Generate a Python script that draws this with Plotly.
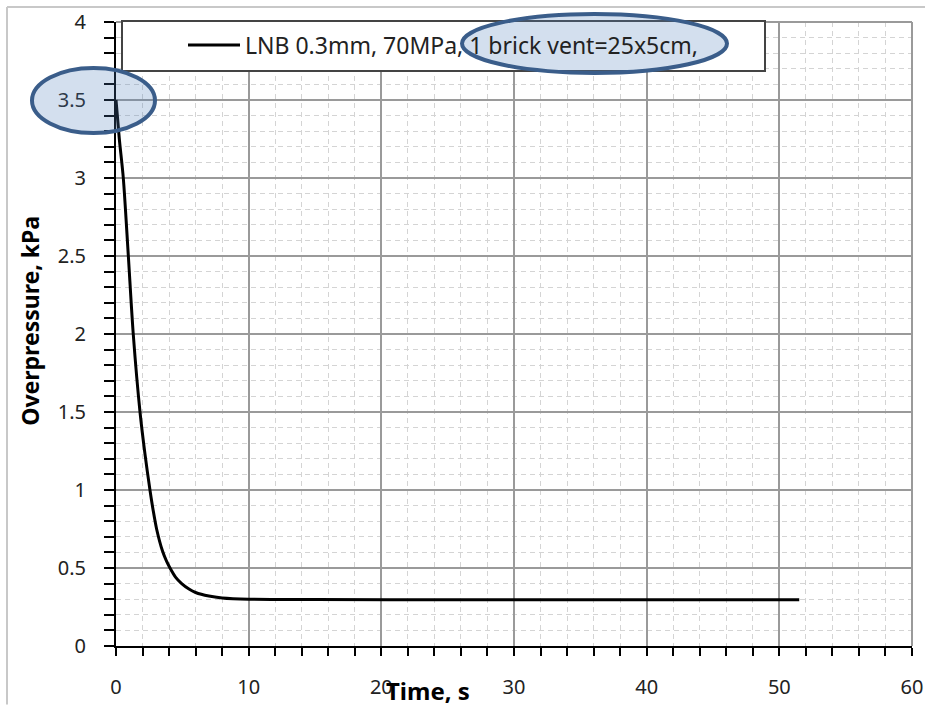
import plotly.graph_objects as go

# Data
time_s = [0, 0.25, 0.55, 0.93, 1.3, 1.81, 2.2, 2.56, 2.8, 3.06, 3.5, 3.8, 4.07, 4.5, 4.95, 5.5, 6.0, 7.0, 8.0, 10.0, 15.0, 25.0, 40.0, 51.5]
overpressure_kpa = [3.5, 3.25, 3.0, 2.5, 2.0, 1.5, 1.22, 1.0, 0.87, 0.75, 0.61, 0.545, 0.5, 0.44, 0.4, 0.365, 0.343, 0.32, 0.308, 0.3, 0.298, 0.297, 0.297, 0.297]
series_name = "LNB 0.3mm, 70MPa, 1 brick vent=25x5cm,"
x_ticks = [0, 10, 20, 30, 40, 50, 60]
y_ticks = [0, 0.5, 1, 1.5, 2, 2.5, 3, 3.5, 4]

FONT = "Noto Sans"

# plot-area pixel geometry
L, R, T, B = 116, 912, 22, 646.5
W, H = R - L, B - T


def px(x):
    return (x - L) / W


def py(y):
    return (B - y) / H


fig = go.Figure()
fig.add_trace(go.Scatter(
    x=time_s, y=overpressure_kpa, mode="lines", name=series_name,
    line=dict(color="black", width=3, shape="spline", smoothing=0.8),
    showlegend=False,
))

fig.update_layout(
    width=925, height=705,
    margin=dict(l=L, r=925 - R, t=T, b=705 - B, autoexpand=False),
    paper_bgcolor="white", plot_bgcolor="white",
    font=dict(family=FONT, size=20, color="#222222"),
    xaxis=dict(
        range=[0, 60], tickvals=x_ticks, showline=True, linecolor="black", linewidth=2,
        ticks="outside", ticklen=8, tickcolor="black", tickwidth=2, automargin=False,
        showgrid=True, gridcolor="#9a9a9a", gridwidth=1.5, zeroline=False,
        ticklabelstandoff=14,
        minor=dict(dtick=2, ticks="outside", ticklen=8, tickcolor="black", tickwidth=2,
                   showgrid=True, gridcolor="#d4d4d4", griddash="5px,4px", gridwidth=1),
    ),
    yaxis=dict(
        range=[0, 4], tickvals=y_ticks, showline=True, linecolor="black", linewidth=2,
        ticks="outside", ticklen=10, tickcolor="black", tickwidth=2, automargin=False,
        showgrid=True, gridcolor="#9a9a9a", gridwidth=1.5, zeroline=False,
        ticklabelstandoff=14,
        minor=dict(dtick=0.1, ticks="outside", ticklen=10, tickcolor="black", tickwidth=2,
                   showgrid=True, gridcolor="#d4d4d4", griddash="5px,4px", gridwidth=1),
    ),
)

shapes = []
# outer chart frame (top and left edges visible)
shapes.append(dict(type="line", xref="paper", yref="paper", x0=px(7), x1=px(925), y0=py(7), y1=py(7),
                   line=dict(color="#c8c8c8", width=2), layer="above"))
shapes.append(dict(type="line", xref="paper", yref="paper", x0=px(7), x1=px(7), y0=py(7), y1=py(705),
                   line=dict(color="#c8c8c8", width=2), layer="above"))
# plot-area border top and right (gray)
shapes.append(dict(type="line", xref="paper", yref="paper", x0=0, x1=1, y0=1, y1=1,
                   line=dict(color="#9a9a9a", width=2), layer="above"))
shapes.append(dict(type="line", xref="paper", yref="paper", x0=1, x1=1, y0=0, y1=1,
                   line=dict(color="#9a9a9a", width=2), layer="above"))
# legend box
shapes.append(dict(type="rect", xref="paper", yref="paper", x0=px(122), x1=px(765), y0=py(71), y1=py(21),
                   fillcolor="white", line=dict(color="#444444", width=2), layer="above"))
# legend line sample
shapes.append(dict(type="line", xref="paper", yref="paper", x0=px(188), x1=px(240), y0=py(45), y1=py(45),
                   line=dict(color="black", width=3), layer="above"))
# highlight ellipses
shapes.append(dict(type="circle", xref="paper", yref="paper", x0=px(462), x1=px(727), y0=py(73), y1=py(14),
                   fillcolor="rgba(79,129,189,0.25)", line=dict(color="#3a5d8a", width=4), layer="above"))
shapes.append(dict(type="circle", xref="paper", yref="paper", x0=px(32), x1=px(155), y0=py(133), y1=py(68),
                   fillcolor="rgba(79,129,189,0.25)", line=dict(color="#3a5d8a", width=4), layer="above"))
fig.update_layout(shapes=shapes)

annotations = [
    dict(text=series_name, xref="paper", yref="paper", x=px(243), y=py(45), xanchor="left", yanchor="middle",
         showarrow=False, font=dict(family=FONT, size=23, color="#222222")),
    dict(text="<b>Time, s</b>", xref="paper", yref="paper", x=px(428), y=py(691), xanchor="center", yanchor="middle",
         showarrow=False, font=dict(family=FONT, size=24, color="black")),
    dict(text="<b>Overpressure, kPa</b>", xref="paper", yref="paper", x=px(30), y=py(321), xanchor="center",
         yanchor="middle", textangle=-90, showarrow=False, font=dict(family=FONT, size=23, color="black")),
]
fig.update_layout(annotations=annotations)

fig.write_html("out.html", config={"displayModeBar": False},
               post_script="document.body.style.margin='0px';document.body.style.overflow='hidden';")
